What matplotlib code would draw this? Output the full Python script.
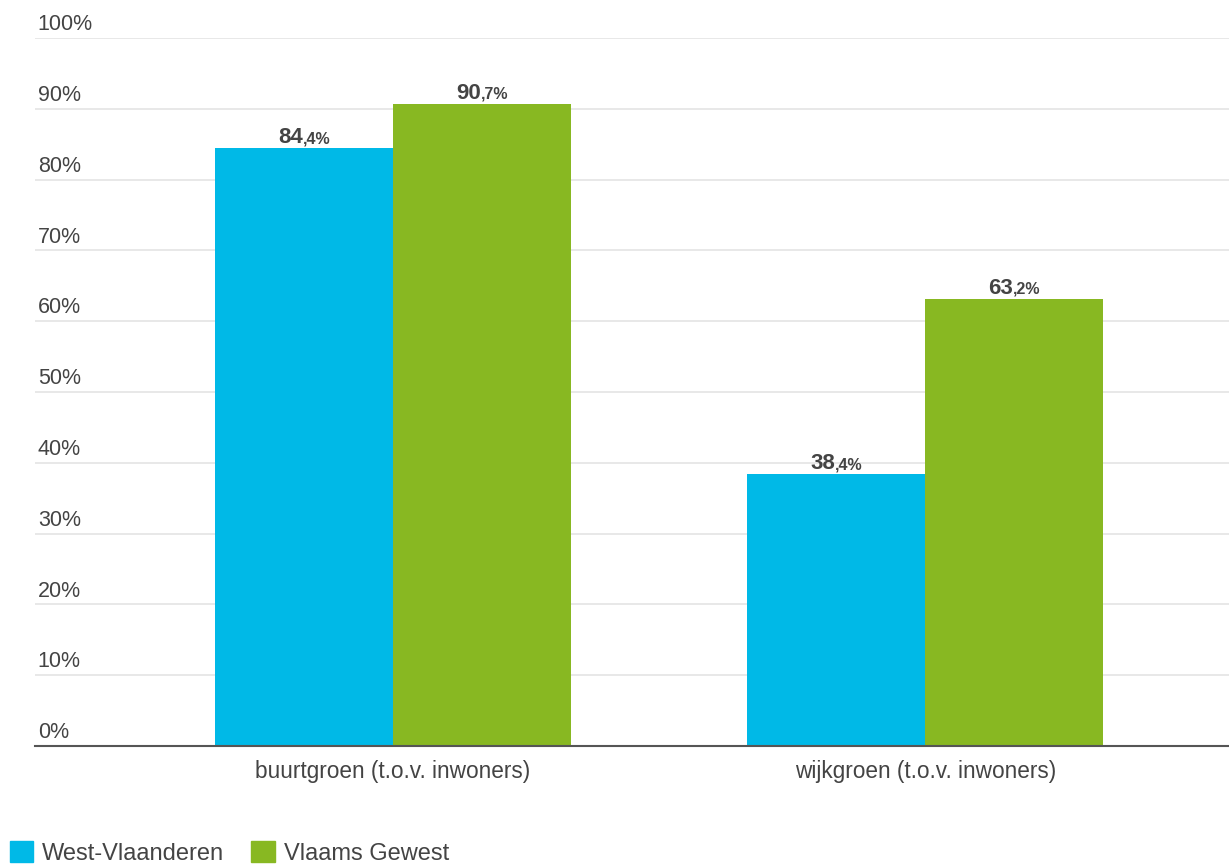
import numpy as np
import matplotlib.pyplot as plt
from matplotlib.patches import Patch
import matplotlib.transforms as mtransforms

plt.rcParams["font.family"] = ["Liberation Sans", "DejaVu Sans"]

categories = ["buurtgroen (t.o.v. inwoners)", "wijkgroen (t.o.v. inwoners)"]
series_names = ["West-Vlaanderen", "Vlaams Gewest"]
west_vl = [84.4, 38.4]
vlaams = [90.7, 63.2]
yticks = [0, 10, 20, 30, 40, 50, 60, 70, 80, 90, 100]

colors = ["#00B9E7", "#88B822"]
txt_col = "#444444"

fig = plt.figure(figsize=(12.29, 8.67), dpi=100)
ax = fig.add_axes([35/1229, 121/867, 1 - 35/1229, 708/867])

x = np.arange(len(categories))
w = 0.3346
b1 = ax.bar(x - w/2, west_vl, w, color=colors[0])
b2 = ax.bar(x + w/2, vlaams, w, color=colors[1])

ax.set_xlim(-0.673, 1.571)
ax.set_ylim(0, 100)

for s in ["top", "right", "left"]:
    ax.spines[s].set_visible(False)
ax.spines["bottom"].set_color("#555555")
ax.spines["bottom"].set_linewidth(1.5)

ax.set_yticks(yticks)
ax.yaxis.grid(True, color="#e4e4e4", linewidth=1.2)
ax.set_axisbelow(True)
ax.tick_params(axis="y", length=0, labelleft=False)
ax.tick_params(axis="x", length=0, pad=10, labelsize=16.3, labelcolor=txt_col)
ax.set_xticks(x)
ax.set_xticklabels(categories)

# y tick labels sit above the gridlines, left aligned
trans = mtransforms.blended_transform_factory(ax.transAxes, ax.transData)
for t in yticks:
    ax.annotate(f"{t}%", (0, t), xycoords=trans, xytext=(2, 5.6),
                textcoords="offset points", ha="left", va="baseline",
                fontsize=15.5, color=txt_col)

# value labels: big bold integer part, smaller decimal part
fig.canvas.draw()
r = fig.canvas.get_renderer()
for bars, vals in [(b1, west_vl), (b2, vlaams)]:
    for bar, v in zip(bars, vals):
        s = f"{v:.1f}".split(".")
        cx = bar.get_x() + bar.get_width()/2
        t1 = ax.annotate(s[0], (cx, v), xytext=(0, 3.6), textcoords="offset points",
                         ha="left", va="baseline", fontsize=16, fontweight="bold", color=txt_col)
        t2 = ax.annotate("," + s[1] + "%", (cx, v), xytext=(0, 3.6), textcoords="offset points",
                         ha="left", va="baseline", fontsize=11.5, fontweight="bold", color=txt_col)
        w1 = t1.get_window_extent(r).width * 72 / fig.dpi
        w2 = t2.get_window_extent(r).width * 72 / fig.dpi
        start = -(w1 + w2) / 2
        t1.set_position((start, 3.6))
        t2.set_position((start + w1, 3.6))

handles = [Patch(color=c, label=n) for c, n in zip(colors, series_names)]
fig.legend(handles=handles, loc="center left", bbox_to_anchor=(10/1229, 1 - 853/867), ncol=2,
           frameon=False, fontsize=17, handlelength=0.98, handleheight=0.98,
           handletextpad=0.38, columnspacing=1.15, labelcolor=txt_col,
           borderpad=0, borderaxespad=0)

fig.savefig("out.png", dpi=100)
